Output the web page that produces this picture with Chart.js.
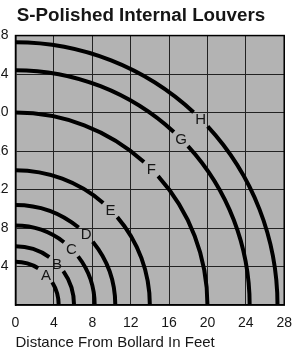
<!DOCTYPE html>
<html><head><meta charset="utf-8">
<script src="https://cdn.jsdelivr.net/npm/chart.js@4/dist/chart.umd.min.js"></script>
<style>html,body{margin:0;padding:0;background:#fff;overflow:hidden}#wrap{position:relative;width:294px;height:356px;overflow:hidden}#c{position:absolute;left:-20px;top:0}</style>
</head><body><div id="wrap"><canvas id="c" width="322" height="356"></canvas></div>
<script>
// ---- data ----
const curveLabels = ['A','B','C','D','E','F','G','H'];
// distance (feet) where each curve meets the axes (x-intercept = y-intercept)
const curveRadii = [4.5, 6.1, 8.25, 10.4, 14, 20, 24.4, 27.3];
const xTicks = [0, 4, 8, 12, 16, 20, 24, 28];
const yTicks = [4, 8, 12, 16, 20, 24, 28];

// ---- styles ----
const FONT = "'Liberation Sans', Arial, Helvetica, sans-serif";
const INK = '#161616';
const PLOT_BG = '#b3b3b3';
const LABEL_ANGLE = Math.PI / 4; // labels sit at 45 degrees
const GAP_PX = 10;               // half-length of line break around a label

const datasets = curveLabels.map((lab, i) => ({
  label: lab,
  data: [{x: 0, y: curveRadii[i]}, {x: curveRadii[i], y: 0}],
  showLine: false,
  pointRadius: 0,
  pointHoverRadius: 0
}));

const bgPlugin = {
  id: 'plotBg',
  beforeDraw(chart) {
    const {ctx, chartArea: a} = chart;
    ctx.save();
    ctx.fillStyle = PLOT_BG;
    ctx.fillRect(a.left, a.top, a.right - a.left, a.bottom - a.top);
    ctx.restore();
  }
};

const arcPlugin = {
  id: 'arcs',
  afterDatasetsDraw(chart) {
    const {ctx, chartArea: a, scales: {x, y}} = chart;
    const cx = x.getPixelForValue(0), cy = y.getPixelForValue(0);
    ctx.save();
    ctx.beginPath();
    ctx.rect(a.left, a.top, a.right - a.left, a.bottom - a.top);
    ctx.clip();
    chart.data.datasets.forEach(ds => {
      const rx = x.getPixelForValue(ds.data[1].x) - cx;
      const ry = cy - y.getPixelForValue(ds.data[0].y);
      const g = GAP_PX / ((rx + ry) / 2);
      ctx.strokeStyle = '#000';
      ctx.lineWidth = 4;
      ctx.lineCap = 'butt';
      ctx.beginPath();
      ctx.ellipse(cx, cy, rx, ry, 0, -Math.PI / 2, -LABEL_ANGLE - g);
      ctx.stroke();
      ctx.beginPath();
      ctx.ellipse(cx, cy, rx, ry, 0, -LABEL_ANGLE + g, 0);
      ctx.stroke();
      const lx = cx + rx * Math.cos(-LABEL_ANGLE);
      const ly = cy + ry * Math.sin(-LABEL_ANGLE);
      ctx.fillStyle = INK;
      ctx.font = '15px ' + FONT;
      ctx.textAlign = 'center';
      ctx.textBaseline = 'middle';
      ctx.fillText(ds.label, lx, ly + 1);
    });
    ctx.restore();
  },
  afterDraw(chart) {
    const {ctx, chartArea: a} = chart;
    ctx.save();
    ctx.strokeStyle = '#000';
    ctx.lineWidth = 1.5;
    ctx.strokeRect(a.left, a.top, a.right - a.left, a.bottom - a.top);
    ctx.restore();
  }
};

new Chart(document.getElementById('c'), {
  type: 'scatter',
  data: {datasets},
  plugins: [bgPlugin, arcPlugin],
  options: {
    responsive: false,
    animation: false,
    events: [],
    layout: {padding: {left: 0, right: 0, top: 0, bottom: 0}},
    plugins: {
      legend: {display: false},
      tooltip: {enabled: false},
      title: {
        display: true,
        text: 'S-Polished Internal Louvers',
        color: INK,
        font: {family: FONT, size: 18.8, weight: 'bold'},
        padding: {top: 4.5, bottom: 8.5}
      }
    },
    scales: {
      x: {
        type: 'linear', min: 0, max: 28,
        afterBuildTicks(s) { s.ticks = xTicks.map(v => ({value: v})); },
        afterFit(s) { s.height = 51; },
        grid: {color: '#222', lineWidth: 1, drawTicks: false},
        border: {display: true, color: '#000', width: 1.5},
        ticks: {color: INK, font: {family: FONT, size: 14}, padding: 10, maxRotation: 0, autoSkip: false},
        title: {display: true, text: 'Distance From Bollard In Feet', align: 'start', color: INK,
                font: {family: FONT, size: 15}, padding: {top: 0, bottom: 4}}
      },
      y: {
        type: 'linear', min: 0, max: 28,
        afterBuildTicks(s) { s.ticks = yTicks.map(v => ({value: v})); },
        afterFit(s) { s.width = 35.5; },
        grid: {color: '#222', lineWidth: 1, drawTicks: false},
        border: {display: true, color: '#000', width: 1.5},
        ticks: {color: INK, font: {family: FONT, size: 14}, padding: 7, autoSkip: false}
      }
    }
  }
});
</script>
</body></html>
